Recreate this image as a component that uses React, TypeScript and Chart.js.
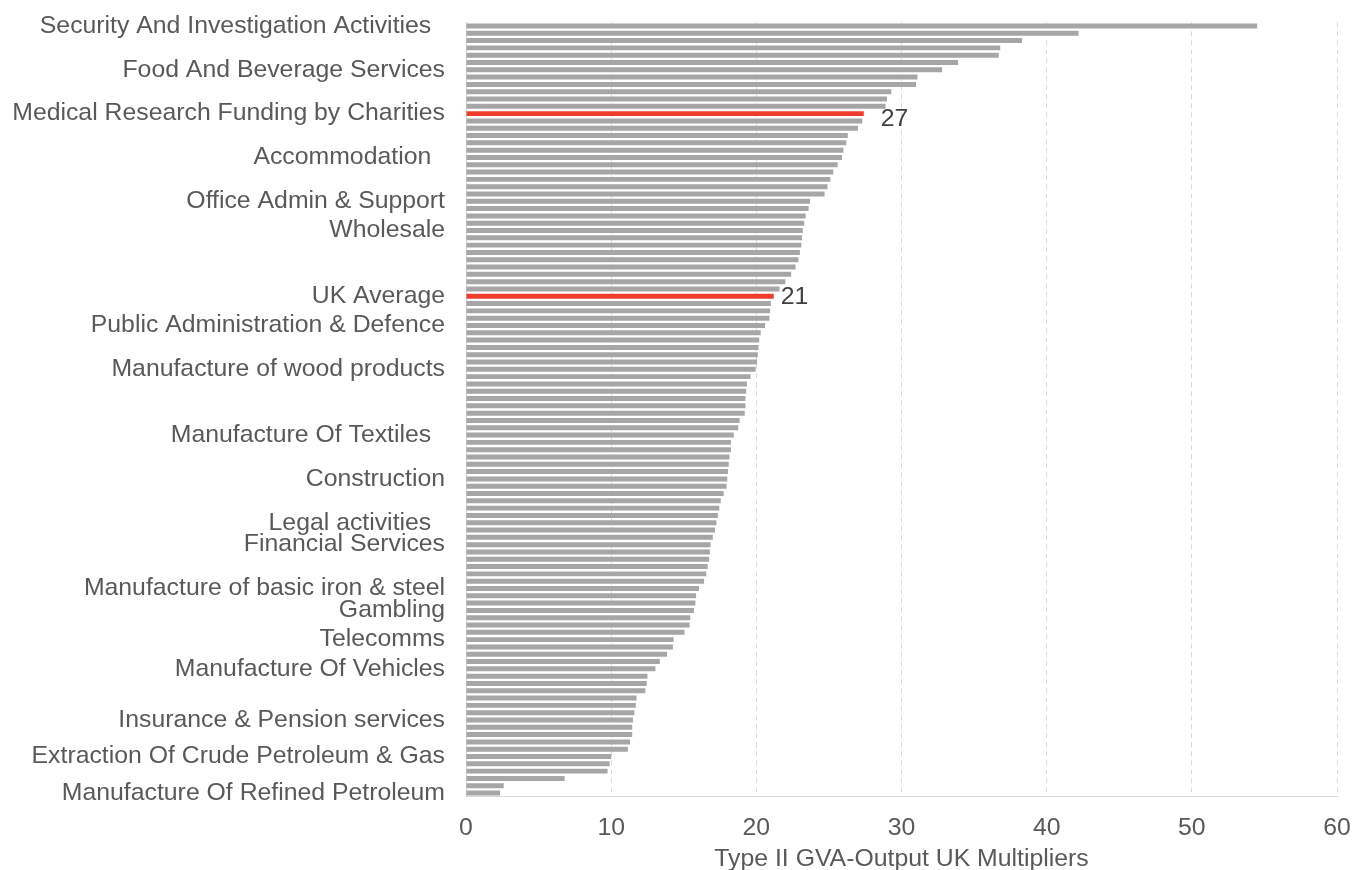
import React, { useEffect, useRef } from 'react';
import { Chart, registerables } from 'chart.js';

Chart.register(...registerables);

// Categories (only some sectors carry a visible name)
const categories: string[] = [
  'Security And Investigation Activities  ', '', '', '', '', '', 'Food And Beverage Services', '', '', '',
  '', '', 'Medical Research Funding by Charities', '', '', '', '', '', 'Accommodation  ', '',
  '', '', '', '', 'Office Admin & Support', '', '', '', 'Wholesale', '',
  '', '', '', '', '', '', '', 'UK Average', '', '',
  '', 'Public Administration & Defence', '', '', '', '', '', 'Manufacture of wood products', '', '',
  '', '', '', '', '', '', 'Manufacture Of Textiles  ', '', '', '',
  '', '', 'Construction', '', '', '', '', '', 'Legal activities  ', '',
  '', 'Financial Services', '', '', '', '', '', 'Manufacture of basic iron & steel', '', '',
  'Gambling', '', '', '', 'Telecomms', '', '', '', 'Manufacture Of Vehicles', '',
  '', '', '', '', '', 'Insurance & Pension services', '', '', '', '',
  'Extraction Of Crude Petroleum & Gas', '', '', '', '', 'Manufacture Of Refined Petroleum',
];

// Type II GVA-Output UK multipliers
const values: number[] = [
  54.5, 42.2, 38.3, 36.8, 36.7, 33.9, 32.8, 31.1, 31.0, 29.3,
  29.0, 28.9, 27.4, 27.3, 27.0, 26.3, 26.2, 26.0, 25.9, 25.6,
  25.3, 25.1, 24.9, 24.7, 23.7, 23.6, 23.4, 23.3, 23.2, 23.15,
  23.1, 23.0, 22.9, 22.7, 22.4, 22.0, 21.6, 21.2, 21.0, 20.95,
  20.9, 20.6, 20.3, 20.2, 20.15, 20.1, 20.05, 19.95, 19.6, 19.35,
  19.3, 19.25, 19.25, 19.2, 18.85, 18.75, 18.45, 18.25, 18.25, 18.15,
  18.1, 18.05, 18.0, 17.95, 17.75, 17.55, 17.45, 17.35, 17.25, 17.15,
  17.0, 16.85, 16.8, 16.75, 16.65, 16.55, 16.4, 16.05, 15.85, 15.8,
  15.7, 15.45, 15.4, 15.05, 14.3, 14.25, 13.85, 13.35, 13.05, 12.5,
  12.45, 12.35, 11.75, 11.7, 11.6, 11.5, 11.45, 11.45, 11.3, 11.15,
  10.0, 9.9, 9.75, 6.8, 2.6, 2.35,
];

// Highlighted bars (red, with value labels)
const highlighted: number[] = [12, 37];

const xMin = 0;
const xMax = 60;
const xStep = 10;
const xTitle = 'Type II GVA-Output UK Multipliers';

// Styles
const FONT = '"Liberation Sans", Arial, sans-serif';
const FONT_SIZE = 24.8;
const GREY = '#A6A6A6';
const RED = '#F03C2D';
const TEXT = '#595959';
const LABEL_TEXT = '#404040';
const labelOffsets: Record<number, { dx: number; dy: number }> = {
  12: { dx: 17, dy: 6 },
  37: { dx: 7, dy: 1 },
};

export default function App() {
  const ref = useRef<HTMLCanvasElement>(null);

  useEffect(() => {
    if (!ref.current) return;
    const valueLabels = {
      id: 'valueLabels',
      afterDatasetsDraw(chart: any) {
        const ctx = chart.ctx;
        const meta = chart.getDatasetMeta(0);
        ctx.save();
        ctx.font = `${FONT_SIZE}px ${FONT}`;
        ctx.fillStyle = LABEL_TEXT;
        ctx.textAlign = 'left';
        ctx.textBaseline = 'middle';
        highlighted.forEach((i) => {
          const el = meta.data[i];
          const off = labelOffsets[i] || { dx: 8, dy: 0 };
          ctx.fillText(String(Math.round(values[i])), el.x + off.dx, el.y + off.dy);
        });
        ctx.restore();
      },
    };

    const chart = new Chart(ref.current, {
      type: 'bar',
      data: {
        labels: categories,
        datasets: [
          {
            data: values,
            backgroundColor: values.map((_, i) => (highlighted.includes(i) ? RED : GREY)),
            barPercentage: 0.68,
            categoryPercentage: 1,
          },
        ],
      },
      options: {
        indexAxis: 'y',
        responsive: false,
        animation: false,
        layout: { padding: { top: 22.3, right: 15, bottom: 0, left: 0 } },
        plugins: {
          legend: { display: false },
          tooltip: { enabled: false },
        },
        scales: {
          x: {
            min: xMin,
            max: xMax,
            ticks: {
              stepSize: xStep,
              color: TEXT,
              font: { family: FONT, size: FONT_SIZE },
              padding: 17,
              maxRotation: 0,
            },
            grid: {
              color: (c: any) => (c.tick && c.tick.value === 0 ? 'rgba(0,0,0,0)' : '#D9D9D9'),
              drawTicks: false,
              lineWidth: 1,
            },
            border: { display: true, color: '#D9D9D9', dash: [5, 4] },
            title: {
              display: true,
              text: xTitle,
              color: TEXT,
              font: { family: FONT, size: FONT_SIZE, lineHeight: 0.85 },
              padding: { top: 0, bottom: 0 },
            },
            afterFit: (s: any) => {
              s.height = 73.3;
              s.paddingLeft = 0;
              s.paddingRight = 0;
            },
          },
          y: {
            ticks: {
              autoSkip: false,
              color: TEXT,
              font: { family: FONT, size: FONT_SIZE },
              padding: 21,
            },
            grid: { display: false, drawTicks: false },
            border: { display: true, color: '#D0D0D0' },
            afterFit: (s: any) => {
              s.width = 466;
              s.paddingTop = 0;
              s.paddingBottom = 0;
            },
          },
        },
      },
      plugins: [valueLabels],
    } as any);

    return () => chart.destroy();
  }, []);

  return (
    <div style={{ position: 'fixed', left: 0, top: 0, width: 1352, height: 870, background: '#ffffff' }}>
      <canvas ref={ref} width={1352} height={870} style={{ display: 'block' }} />
    </div>
  );
}
